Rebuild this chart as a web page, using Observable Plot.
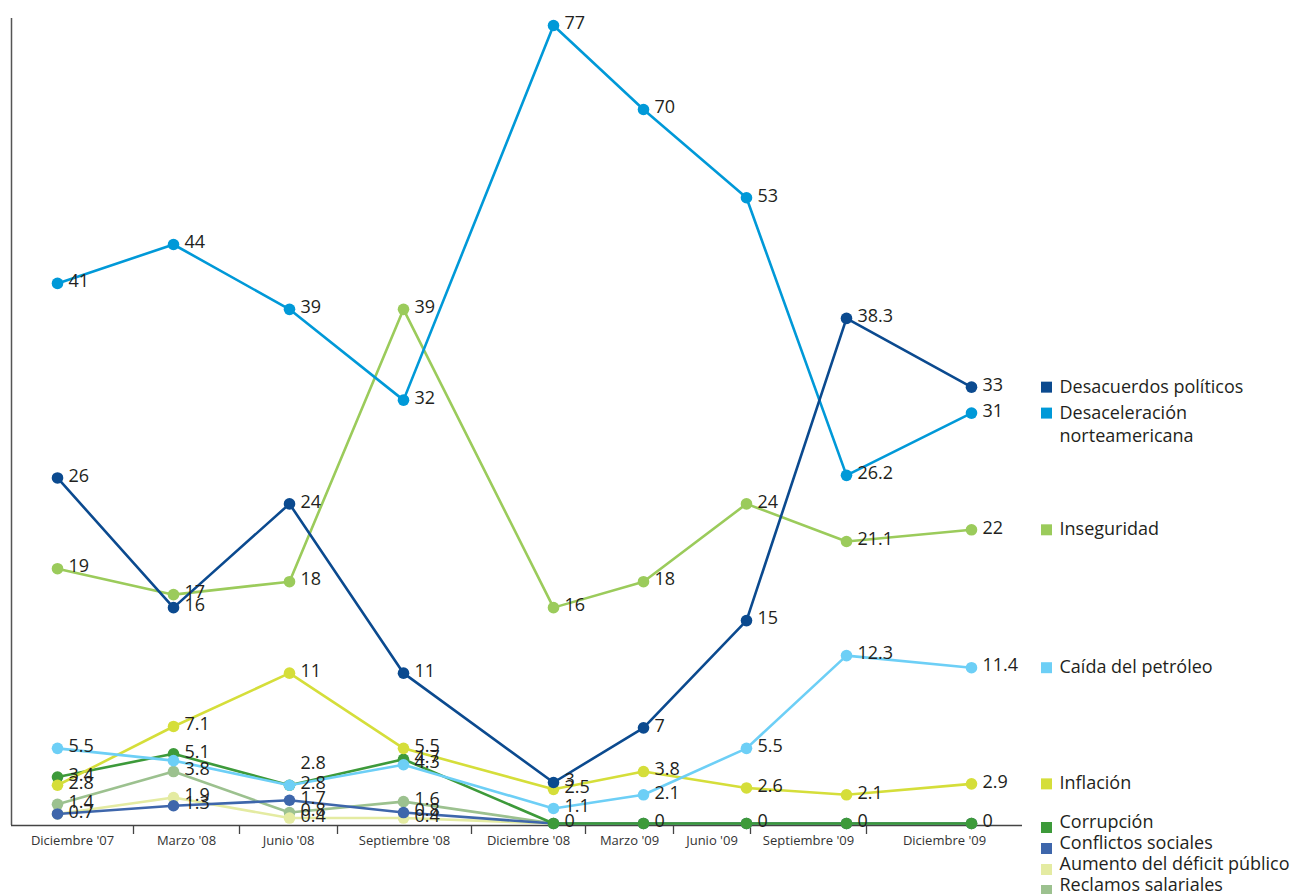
<!DOCTYPE html>
<html>
<head>
<meta charset="utf-8">
<script src="https://cdn.jsdelivr.net/npm/d3@7"></script>
<script src="https://cdn.jsdelivr.net/npm/@observablehq/plot@0.6"></script>
<style>
  html, body { margin: 0; padding: 0; background: #fff; }
  #chart { width: 1301px; height: 894px; }
  #chart svg { font-family: "Open Sans", sans-serif; }
</style>
</head>
<body>
<div id="chart"></div>
<script>
// ---------- data ----------
const periods = ["Diciembre '07", "Marzo '08", "Junio '08", "Septiembre '08", "Diciembre '08", "Marzo '09", "Junio '09", "Septiembre '09", "Diciembre '09"];

const seriesNames = ["Desacuerdos políticos", "Desaceleración norteamericana", "Inseguridad", "Caída del petróleo", "Inflación", "Corrupción", "Conflictos sociales", "Aumento del déficit público", "Reclamos salariales"];
const legendLabels = ["Desacuerdos políticos", "Desaceleración\nnorteamericana", "Inseguridad", "Caída del petróleo", "Inflación", "Corrupción", "Conflictos sociales", "Aumento del déficit público", "Reclamos salariales"];
const seriesColors = ["#0b4a8f", "#0099d8", "#9bcb5b", "#6dcff6", "#d5de3a", "#3d9a3a", "#3e66ab", "#e4eba2", "#9cc18f"];

const desacuerdos    = [26, 16, 24, 11, 3, 7, 15, 38.3, 33];
const desaceleracion = [41, 44, 39, 32, 77, 70, 53, 26.2, 31];
const inseguridad    = [19, 17, 18, 39, 16, 18, 24, 21.1, 22];
const caidaPetroleo  = [5.5, 4.6, 2.8, 4.3, 1.1, 2.1, 5.5, 12.3, 11.4];
const inflacion      = [2.8, 7.1, 11, 5.5, 2.5, 3.8, 2.6, 2.1, 2.9];
const corrupcion     = [3.4, 5.1, 2.8, 4.7, 0, 0, 0, 0, 0];
const conflictos     = [0.7, 1.3, 1.7, 0.8, 0, 0, 0, 0, 0];
const deficit        = [0.7, 1.9, 0.4, 0.4, 0, 0, 0, 0, 0];
const reclamos       = [1.4, 3.8, 0.8, 1.6, 0, 0, 0, 0, 0];

const seriesValues = [desacuerdos, desaceleracion, inseguridad, caidaPetroleo, inflacion, corrupcion, conflictos, deficit, reclamos];
// points whose value label is not printed in the original (hidden or shared with a coincident point)
const unlabeled = [["Caída del petróleo", 1], ["Conflictos sociales", 0]];
// zero values share one "0" label, printed for this series
const zeroLabelSeries = "Corrupción";
// labels printed above their point in the original
const raised = [["Caída del petróleo", 2]];

// ---------- scales (piecewise, as in the original layout) ----------
const xBreaks = [-0.5, 0, 0.5, 1, 1.5, 2, 2.5, 3, 3.5, 4, 4.5, 5, 5.5, 6, 6.5, 7, 7.5, 8, 8.5];
const xPixels = [11, 57, 133, 173, 239, 289, 337, 403, 471, 553, 585, 643, 673, 746, 750, 846, 866, 971, 1022];
const yBreaks = [0, 12, 44, 70, 77];
const yPixels = [823, 659, 244, 109, 25];

const sx = d3.scaleLinear(xBreaks, xPixels);
const separators = d3.range(0.5, 8, 1);
const labelPos = periods.map((_, i) => sx.invert((sx(i - 0.5) + sx(i + 0.5)) / 2));

// ---------- tidy table ----------
const has = (list, s, i) => list.some(([n, j]) => n === s && j === i);
const rows = [];
seriesNames.forEach((s, k) => {
  seriesValues[k].forEach((v, i) => {
    const hide = has(unlabeled, s, i) || (v === 0 && s !== zeroLabelSeries);
    rows.push({series: s, i, value: v, label: hide ? "" : String(v), raised: has(raised, s, i)});
  });
});

const lastVal = seriesNames.map((s, k) => ({series: s, label: legendLabels[k], value: seriesValues[k][seriesValues[k].length - 1]}));
const topLegend = lastVal.slice(0, 5);
const bottomLegend = lastVal.slice(5);

const marks = [];
// axis lines and separator ticks
marks.push(Plot.ruleX([-0.5], {stroke: "#555", strokeWidth: 1.5}));
marks.push(Plot.ruleY([0], {x1: -0.5, x2: 8.5, dy: 2, stroke: "#444", strokeWidth: 1.5}));
marks.push(Plot.ruleX(separators, {x: d => d, insetTop: 807, insetBottom: -9, stroke: "#444", strokeWidth: 1.3}));
marks.push(Plot.text(periods, {x: (d, i) => labelPos[i], text: d => d, frameAnchor: "bottom", dy: 19, fontSize: 13, fill: "#333"}));

// series, drawn so that the first legend entry ends on top
for (let k = seriesNames.length - 1; k >= 0; k--) {
  const data = rows.filter(r => r.series === seriesNames[k]);
  marks.push(Plot.line(data, {x: "i", y: "value", stroke: seriesColors[k], strokeWidth: 2.6}));
  marks.push(Plot.dot(data, {x: "i", y: "value", fill: seriesColors[k], r: 5.8}));
}
// value labels
marks.push(Plot.text(rows.filter(r => !r.raised), {x: "i", y: "value", text: "label", textAnchor: "start", dx: 11, dy: -2, fontSize: 18, fill: "#231f20"}));
marks.push(Plot.text(rows.filter(r => r.raised), {x: "i", y: "value", text: "label", textAnchor: "start", dx: 11, dy: -22, fontSize: 18, fill: "#231f20"}));

// legend aligned with last values
marks.push(Plot.dot(topLegend, {y: "value", frameAnchor: "right", dx: 24, symbol: "square", r: 6.2, fill: d => seriesColors[seriesNames.indexOf(d.series)]}));
marks.push(Plot.text(topLegend, {y: "value", frameAnchor: "right", dx: 37, dy: -11, text: "label", textAnchor: "start", lineAnchor: "top", lineHeight: 1.3, fontSize: 18, fill: "#231f20"}));
// legend stacked under the axis
bottomLegend.forEach((d, j) => {
  const c = seriesColors[seriesNames.indexOf(d.series)];
  marks.push(Plot.dot([d], {frameAnchor: "bottom-right", dx: 24, dy: 2 + 21 * j, symbol: "square", r: 6.2, fill: c}));
  marks.push(Plot.text([d], {frameAnchor: "bottom-right", dx: 37, dy: 2 + 21 * j, text: "label", textAnchor: "start", fontSize: 18, fill: "#231f20"}));
});

const chart = Plot.plot({
  width: 1301,
  height: 894,
  marginTop: 18,
  marginBottom: 69,
  marginLeft: 11,
  marginRight: 279,
  x: {type: "linear", domain: xBreaks, range: xPixels, axis: null},
  y: {type: "linear", domain: yBreaks, range: yPixels, axis: null},
  style: {fontFamily: "Open Sans, sans-serif", background: "#fff", overflow: "visible"},
  marks
});
document.getElementById("chart").appendChild(chart);
</script>
</body>
</html>
